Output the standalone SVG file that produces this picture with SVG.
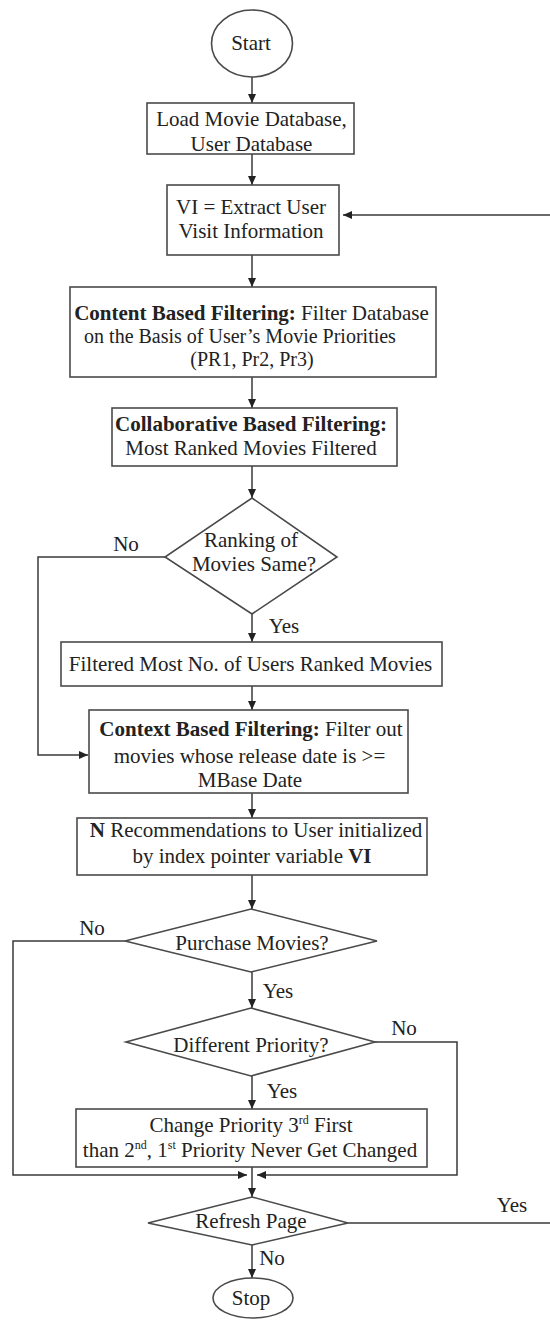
<svg xmlns="http://www.w3.org/2000/svg" width="550" height="1320" viewBox="0 0 550 1320">
<defs>
<style>
.n{fill:#fff;stroke:#4a4a4a;stroke-width:1.6}
.t{font-family:"Liberation Serif","Times New Roman",serif;font-size:21px;fill:#222;text-anchor:middle}
.s{font-size:20px}
.b{font-weight:bold}
.c{fill:none;stroke:#3a3a3a;stroke-width:1.5}
.sup{font-size:12px}
</style>
<marker id="ah" markerUnits="userSpaceOnUse" markerWidth="9" markerHeight="8" refX="9" refY="4" orient="auto">
<path d="M0,0 L9,4 L0,8 z" fill="#222"/>
</marker>
</defs>
<rect width="550" height="1320" fill="#fff"/>
<g id="connectors">
<path class="c" d="M252,77 V103" marker-end="url(#ah)"/>
<path class="c" d="M252,154 V185" marker-end="url(#ah)"/>
<path class="c" d="M252,255 V287" marker-end="url(#ah)"/>
<path class="c" d="M252,377 V408" marker-end="url(#ah)"/>
<path class="c" d="M252,466 V498" marker-end="url(#ah)"/>
<path class="c" d="M252,614 V642" marker-end="url(#ah)"/>
<path class="c" d="M165,557 H38 V755 H88" marker-end="url(#ah)"/>
<path class="c" d="M252,686 V710" marker-end="url(#ah)"/>
<path class="c" d="M252,793 V818" marker-end="url(#ah)"/>
<path class="c" d="M252,875 V909" marker-end="url(#ah)"/>
<path class="c" d="M252,972 V1008" marker-end="url(#ah)"/>
<path class="c" d="M125,941 H13 V1175 H247" marker-end="url(#ah)"/>
<path class="c" d="M375,1042 H457 V1175 H257" marker-end="url(#ah)"/>
<path class="c" d="M252,1076 V1109" marker-end="url(#ah)"/>
<path class="c" d="M252,1167 V1197" marker-end="url(#ah)"/>
<path class="c" d="M252,1245 V1278" marker-end="url(#ah)"/>
<path class="c" d="M348,1223 H552 V215 H343" marker-end="url(#ah)"/>
<text class="t" x="126" y="551">No</text>
<text class="t" x="284" y="633">Yes</text>
<text class="t" x="92" y="935">No</text>
<text class="t" x="278" y="998">Yes</text>
<text class="t" x="404" y="1035">No</text>
<text class="t" x="282" y="1098">Yes</text>
<text class="t" x="512" y="1212">Yes</text>
<text class="t" x="272" y="1265">No</text>
</g>
<g id="start">
<ellipse class="n" cx="252" cy="43.5" rx="40.5" ry="33.5"/>
<text class="t" x="251" y="50">Start</text>
</g>
<g id="load">
<rect class="n" x="147" y="103" width="207" height="51"/>
<text class="t" x="251.5" y="126">Load Movie Database,</text>
<text class="t" x="251.5" y="151">User Database</text>
</g>
<g id="extract">
<rect class="n" x="167" y="185" width="172" height="70"/>
<text class="t" x="251" y="214">VI = Extract User</text>
<text class="t" x="251" y="238">Visit Information</text>
</g>
<g id="content">
<rect class="n" x="70" y="287" width="366" height="90"/>
<text class="t" x="251.5" y="320"><tspan class="b">Content Based Filtering:</tspan> Filter Database</text>
<text class="t s" x="240" y="343">on the Basis of User’s Movie Priorities</text>
<text class="t s" x="252" y="366">(PR1, Pr2, Pr3)</text>
</g>
<g id="collab">
<rect class="n" x="112" y="408" width="285" height="58"/>
<text class="t b" x="251" y="431">Collaborative Based Filtering:</text>
<text class="t" x="251" y="455">Most Ranked Movies Filtered</text>
</g>
<g id="ranking">
<polygon class="n" points="252,498 337,557 252,614 165,557"/>
<text class="t" x="251" y="547">Ranking of</text>
<text class="t" x="254" y="571">Movies Same?</text>
</g>
<g id="filtered">
<rect class="n" x="61" y="642" width="381" height="44"/>
<text class="t" x="250.5" y="671">Filtered Most No. of Users Ranked Movies</text>
</g>
<g id="context">
<rect class="n" x="89" y="710" width="319" height="83"/>
<text class="t" x="251" y="736"><tspan class="b">Context Based Filtering:</tspan> Filter out</text>
<text class="t" x="249.5" y="763">movies whose release date is &gt;=</text>
<text class="t" x="250" y="787">MBase Date</text>
</g>
<g id="recommend">
<rect class="n" x="77" y="818" width="350" height="57"/>
<text class="t" x="256" y="837"><tspan class="b">N</tspan> Recommendations to User initialized</text>
<text class="t" x="252" y="863">by index pointer variable <tspan class="b">VI</tspan></text>
</g>
<g id="purchase">
<polygon class="n" points="251,909 377,941 251,972 125,941"/>
<text class="t" x="252" y="950">Purchase Movies?</text>
</g>
<g id="different">
<polygon class="n" points="251,1008 375,1042 251,1076 126,1042"/>
<text class="t" x="251" y="1052">Different Priority?</text>
</g>
<g id="change">
<rect class="n" x="76" y="1109" width="351" height="58"/>
<text class="t" x="251" y="1132">Change Priority 3<tspan class="sup" dy="-8">rd</tspan><tspan dy="8"> First</tspan></text>
<text class="t" x="250" y="1157">than 2<tspan class="sup" dy="-8">nd</tspan><tspan dy="8">, 1</tspan><tspan class="sup" dy="-8">st</tspan><tspan dy="8"> Priority Never Get Changed</tspan></text>
</g>
<g id="refresh">
<polygon class="n" points="252,1197 348,1223 252,1245 148,1223"/>
<text class="t" x="251" y="1228">Refresh Page</text>
</g>
<g id="stop">
<ellipse class="n" cx="253" cy="1298" rx="40" ry="20"/>
<text class="t" x="251" y="1305">Stop</text>
</g>
</svg>
